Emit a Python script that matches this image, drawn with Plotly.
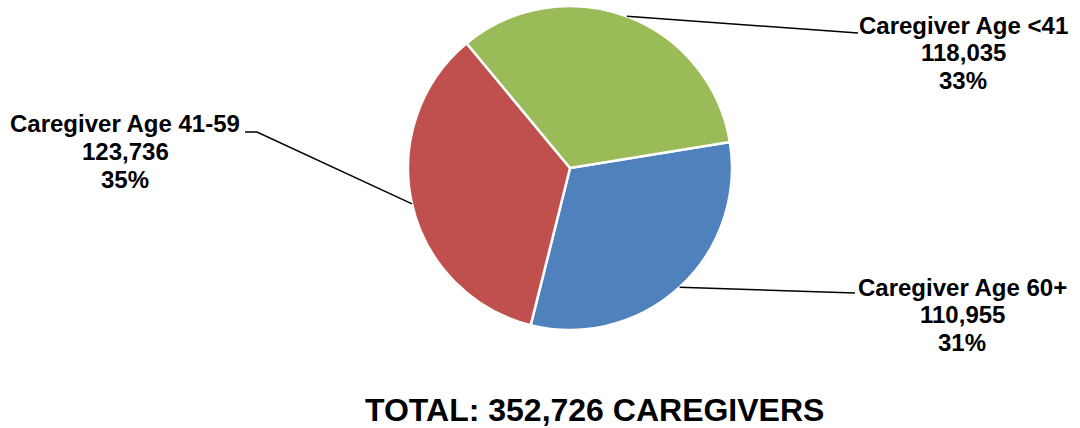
import math
import plotly.graph_objects as go

# ---- data ----
labels = ["Caregiver Age 60+", "Caregiver Age 41-59", "Caregiver Age <41"]
values = [110955, 123736, 118035]
colors = ["#4F81BD", "#C0504D", "#9BBB59"]
total_label = "TOTAL: 352,726 CAREGIVERS"

# ---- layout geometry (pixels) ----
W, H = 1080, 428
cx, cy, R = 570, 168, 162
rotation = 80.8

# label anchor positions (center x, first line y) and leader line end points
label_pos = [(962, 287), (125, 124), (963, 25)]
line_ends = [[(855, 293)], [(257, 132), (245, 132)], [(858, 33)]]

total = sum(values)


def px(x):
    return x / W


def py(y):
    return 1 - y / H


fig = go.Figure()
fig.add_trace(go.Pie(
    labels=labels,
    values=values,
    sort=False,
    direction="clockwise",
    rotation=rotation,
    marker=dict(colors=colors, line=dict(color="white", width=2.5)),
    textinfo="none",
    hoverinfo="label+value+percent",
    showlegend=False,
    domain=dict(x=[px(cx - R), px(cx + R)], y=[py(cy + R), py(cy - R)]),
))

font = dict(family="Arial, Liberation Sans, sans-serif", size=24, color="black")
annotations = []
shapes = []
cum = 0
for i, (lab, v) in enumerate(zip(labels, values)):
    mid = rotation + (cum + v / 2) / total * 360
    cum += v
    a = math.radians(mid)
    sx = cx + R * math.sin(a)
    sy = cy - R * math.cos(a)
    pts = [(sx, sy)] + line_ends[i]
    path = "M " + " L ".join(f"{px(x)},{py(y)}" for x, y in pts)
    shapes.append(dict(type="path", xref="paper", yref="paper", path=path,
                       line=dict(color="black", width=1.5)))
    lx, ly = label_pos[i]
    pct = f"{round(v / total * 100)}%"
    lines = [lab, f"{v:,}", pct]
    for j, t in enumerate(lines):
        annotations.append(dict(
            x=px(lx), y=py(ly + j * 27.5), xref="paper", yref="paper",
            text=f"<b>{t}</b>", showarrow=False, font=font,
            xanchor="center", yanchor="middle",
        ))

annotations.append(dict(
    x=px(594), y=py(410), xref="paper", yref="paper",
    text=f"<b>{total_label}</b>", showarrow=False,
    font=dict(family="Arial, Liberation Sans, sans-serif", size=32, color="black"),
    xanchor="center", yanchor="middle",
))

fig.update_layout(
    width=W, height=H,
    margin=dict(l=0, r=0, t=0, b=0),
    paper_bgcolor="white",
    plot_bgcolor="white",
    annotations=annotations,
    shapes=shapes,
)

fig.write_html("out.html",
               config={"displayModeBar": False},
               post_script="document.body.style.margin='0';document.body.style.overflow='hidden';")
